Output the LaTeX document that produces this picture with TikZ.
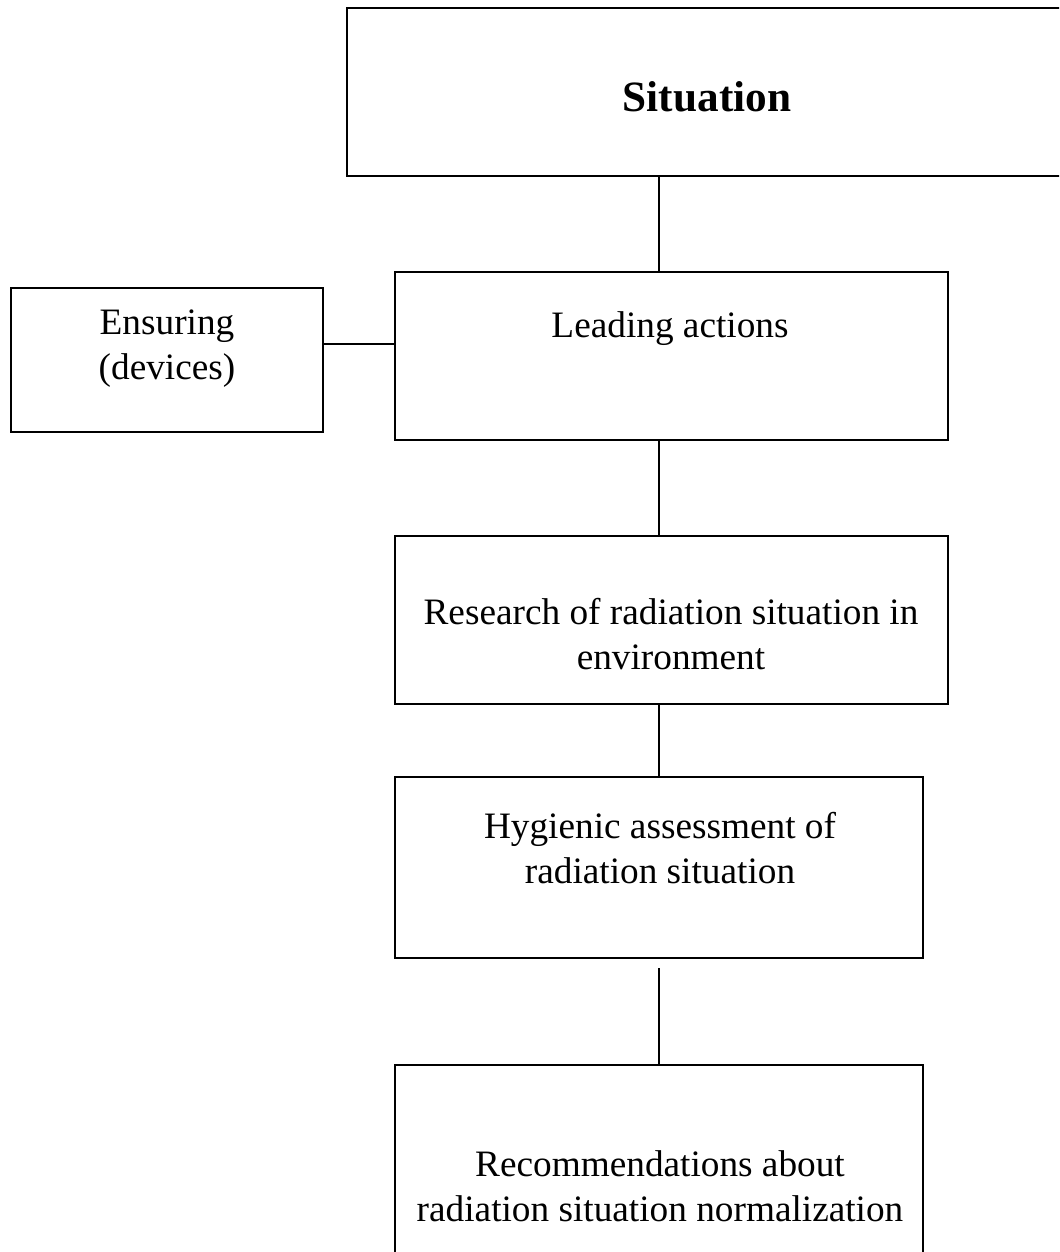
\documentclass[tikz,border=0pt]{standalone}
\usepackage{fontspec}
\setmainfont{Liberation Serif}
\usetikzlibrary{positioning}

\begin{document}
\begin{tikzpicture}[x=0.01cm,y=-0.01cm]
\tikzstyle{box}=[draw,rectangle,line width=0.65pt,inner sep=0pt]
\tikzstyle{txt}=[align=center,inner sep=0pt,font=\fontsize{10.6}{12.8}\selectfont]
\tikzstyle{link}=[line width=0.65pt]

\useasboundingbox (0,0) rectangle (1059,1252);
\clip (0,0) rectangle (1059,1252);

% boxes
\node [box,minimum width=7.28cm,minimum height=1.68cm] (sit) at (711,92) {};
\node [box,minimum width=5.53cm,minimum height=1.68cm] (lead) at (671.5,356) {};
\node [box,minimum width=3.12cm,minimum height=1.44cm] (ens) at (167,360) {};
\node [box,minimum width=5.53cm,minimum height=1.68cm] (res) at (671.5,620) {};
\node [box,minimum width=5.28cm,minimum height=1.81cm] (hyg) at (659,867.5) {};
\node [box,minimum width=5.28cm,minimum height=2.35cm] (rec) at (659,1182.5) {};

% texts
\node [txt,font=\fontsize{12.3}{14}\selectfont\bfseries] (sitT) at (707,97) {Situation};
\node [txt] (leadT) at (670,329) {Leading actions};
\node [txt] (ensT) at (167,349) {Ensuring\\(devices)};
\node [txt] (resT) at (671,634) {Research of radiation situation in\\environment};
\node [txt] (hygT) at (660,848) {Hygienic assessment of\\radiation situation};
\node [txt] (recT) at (660,1186) {Recommendations about\\radiation situation normalization};

% connectors
\coordinate (axis) at (659,0);
\coordinate (row) at (0,344);
\coordinate (gap) at (659,968);
\draw [link] (axis |- sit.south) -- (axis |- lead.north);
\draw [link] (ens.east |- row) -- (lead.west |- row);
\draw [link] (axis |- lead.south) -- (axis |- res.north);
\draw [link] (axis |- res.south) -- (axis |- hyg.north);
\draw [link] (gap) -- (axis |- rec.north);
\end{tikzpicture}
\end{document}
